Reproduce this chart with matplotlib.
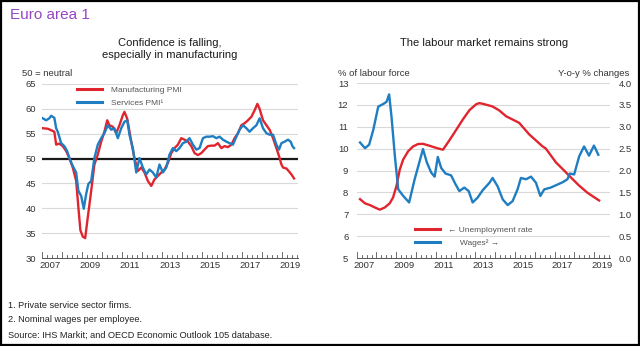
import matplotlib
matplotlib.use("Agg")
import matplotlib.pyplot as plt
from matplotlib.patches import Rectangle
from matplotlib.lines import Line2D

plt.rcParams['font.family'] = ['Liberation Sans', 'DejaVu Sans']

RED = "#E0252E"
BLUE = "#1F7DC2"
PURPLE = "#9446C4"
GRID = "#D9D9D9"
TXT = "#333333"

# ---- Left panel: PMIs (decimal year, index level) ----
mfg_dates = [2007.05, 2007.30, 2007.47, 2007.63, 2007.72, 2007.88, 2008.05, 2008.22, 2008.38,
             2008.55, 2008.72, 2008.83, 2008.93, 2009.05, 2009.17, 2009.30, 2009.47, 2009.63,
             2009.80, 2009.97, 2010.13, 2010.27, 2010.38, 2010.55, 2010.72, 2010.88, 2011.05,
             2011.13, 2011.27, 2011.47, 2011.63, 2011.80, 2011.97, 2012.13, 2012.30, 2012.47,
             2012.63, 2012.80, 2012.97, 2013.13, 2013.30, 2013.47, 2013.63, 2013.80, 2013.97,
             2014.13, 2014.30, 2014.47, 2014.63, 2014.80, 2014.97, 2015.13, 2015.30, 2015.47,
             2015.63, 2015.80, 2015.97, 2016.13, 2016.30, 2016.47, 2016.63, 2016.80, 2016.97,
             2017.13, 2017.30, 2017.47, 2017.63, 2017.77, 2017.88, 2018.05, 2018.22, 2018.38,
             2018.55, 2018.72, 2018.85, 2018.97, 2019.05, 2019.22, 2019.33, 2019.47, 2019.60]
mfg_pmi = [56.1, 56.0, 55.7, 55.4, 52.8, 53.0, 52.5, 51.5, 50.1,
           48.2, 45.5, 40.2, 35.6, 34.3, 34.0, 38.2, 43.5, 48.8,
           50.8, 53.4, 55.4, 57.7, 56.7, 56.4, 55.1, 56.7, 58.7,
           59.4, 58.0, 53.4, 50.1, 47.5, 48.2, 47.2, 45.5, 44.5,
           45.8, 46.5, 47.2, 47.8, 49.1, 51.1, 52.1, 52.8, 54.1,
           53.8, 53.4, 52.5, 51.1, 50.7, 51.1, 51.8, 52.5, 52.6,
           52.6, 53.1, 52.1, 52.5, 52.3, 52.8, 54.1, 55.1, 56.7,
           57.1, 57.7, 58.4, 59.7, 61.0, 60.0, 57.7, 56.7, 55.8,
           54.1, 52.1, 50.5, 48.8, 48.2, 48.0, 47.5, 46.8, 46.0]

svc_dates = [2007.05, 2007.22, 2007.38, 2007.47, 2007.63, 2007.72, 2007.80, 2007.97, 2008.13,
             2008.27, 2008.38, 2008.55, 2008.72, 2008.83, 2008.97, 2009.10, 2009.22, 2009.33,
             2009.47, 2009.63, 2009.80, 2009.97, 2010.13, 2010.30, 2010.47, 2010.63, 2010.80,
             2010.97, 2011.13, 2011.27, 2011.38, 2011.55, 2011.72, 2011.88, 2012.05, 2012.22,
             2012.38, 2012.55, 2012.72, 2012.88, 2013.05, 2013.22, 2013.38, 2013.55, 2013.72,
             2013.88, 2014.05, 2014.22, 2014.38, 2014.55, 2014.72, 2014.88, 2015.05, 2015.22,
             2015.38, 2015.55, 2015.72, 2015.88, 2016.05, 2016.22, 2016.38, 2016.55, 2016.72,
             2016.88, 2017.05, 2017.22, 2017.38, 2017.55, 2017.72, 2017.88, 2018.05, 2018.22,
             2018.38, 2018.55, 2018.72, 2018.85, 2018.97, 2019.13, 2019.30, 2019.43, 2019.52,
             2019.60]
svc_pmi = [58.1, 57.7, 58.1, 58.6, 58.2, 56.1, 55.4, 53.1, 52.5,
           51.5, 50.1, 48.5, 47.2, 43.5, 42.5, 39.9, 42.9, 44.9,
           45.5, 50.1, 52.8, 54.1, 55.1, 56.7, 55.8, 56.1, 54.1,
           56.1, 57.4, 57.7, 54.8, 52.1, 47.2, 50.1, 48.2, 46.8,
           47.8, 47.2, 46.2, 48.8, 47.2, 48.2, 50.8, 52.1, 51.5,
           52.1, 53.1, 53.4, 54.1, 52.8, 51.8, 52.1, 54.1, 54.4,
           54.4, 54.5, 54.1, 54.4, 53.8, 53.4, 53.1, 52.8, 54.4,
           55.8, 56.7, 56.1, 55.4, 56.1, 56.7, 58.1, 56.1, 55.1,
           54.8, 54.8, 52.8, 51.8, 53.1, 53.4, 53.8, 53.4, 52.5,
           52.1]

# ---- Right panel: unemployment rate (% of labour force) ----
unemp_dates = [2007.17, 2007.42, 2007.67, 2007.92, 2008.17, 2008.42, 2008.67, 2008.84, 2009.01,
               2009.18, 2009.35, 2009.60, 2009.85, 2010.10, 2010.35, 2010.69, 2011.03, 2011.36,
               2011.70, 2012.03, 2012.37, 2012.70, 2013.04, 2013.20, 2013.37, 2013.86, 2014.20,
               2014.55, 2015.21, 2015.72, 2016.37, 2016.56, 2017.07, 2017.48, 2017.74, 2018.24,
               2018.64, 2018.75, 2019.25]
unemp = [7.69, 7.50, 7.42, 7.31, 7.21, 7.31, 7.50, 7.77, 8.29,
         9.05, 9.50, 9.88, 10.10, 10.21, 10.22, 10.13, 10.03, 9.95,
         10.40, 10.86, 11.34, 11.76, 12.03, 12.08, 12.05, 11.93, 11.75,
         11.48, 11.18, 10.65, 10.12, 10.00, 9.37, 9.00, 8.76, 8.31,
         8.00, 7.93, 7.63]

# ---- Right panel: nominal wages per employee (y-o-y % change) ----
wage_dates = [2007.17, 2007.42, 2007.63, 2007.84, 2008.09, 2008.34, 2008.51, 2008.64, 2008.76,
              2008.93, 2009.10, 2009.35, 2009.65, 2009.93, 2010.18, 2010.35, 2010.55, 2010.77,
              2010.94, 2011.10, 2011.27, 2011.49, 2011.77, 2011.99, 2012.19, 2012.44, 2012.66,
              2012.86, 2013.11, 2013.37, 2013.71, 2013.87, 2014.12, 2014.38, 2014.63, 2014.88,
              2015.13, 2015.30, 2015.56, 2015.81, 2016.06, 2016.28, 2016.48, 2016.81, 2017.15,
              2017.40, 2017.65, 2017.77, 2017.99, 2018.24, 2018.49, 2018.74, 2018.99, 2019.21]
wages = [2.64, 2.51, 2.59, 2.93, 3.46, 3.52, 3.57, 3.74, 3.23,
         2.33, 1.57, 1.42, 1.27, 1.80, 2.21, 2.49, 2.18, 1.95,
         1.86, 2.31, 2.06, 1.93, 1.89, 1.69, 1.53, 1.61, 1.53,
         1.27, 1.38, 1.55, 1.72, 1.83, 1.64, 1.34, 1.21, 1.30,
         1.57, 1.83, 1.80, 1.86, 1.72, 1.42, 1.57, 1.61, 1.68,
         1.73, 1.80, 1.93, 1.91, 2.32, 2.55, 2.34, 2.57, 2.36]

year_labels = [2007, 2009, 2011, 2013, 2015, 2017, 2019]
pmi_ticks = [30, 35, 40, 45, 50, 55, 60, 65]
unemp_ticks = [5, 6, 7, 8, 9, 10, 11, 12, 13]
wage_ticks = [0.0, 0.5, 1.0, 1.5, 2.0, 2.5, 3.0, 3.5, 4.0]

X0, X1 = 2007.0, 2019.8
LABEL_SHIFT = 0.4

fig = plt.figure(figsize=(6.4, 3.46), dpi=100)
fig.patch.set_facecolor("white")


def style_time_axis(ax):
    ax.set_xlim(X0, X1)
    ax.set_xticks([y + LABEL_SHIFT for y in year_labels])
    ax.set_xticklabels([str(y) for y in year_labels], fontsize=6.8, color=TXT)
    ax.tick_params(axis="x", length=0, pad=2)
    # small calendar ticks on the baseline
    for i in range(int((X1 - X0) * 4) + 1):
        q = X0 + i * 0.25
        h = 0.035 if i % 4 == 0 else 0.018
        ax.plot([q, q], [0, h], transform=ax.get_xaxis_transform(),
                color="#555555", lw=0.6, clip_on=False)
    for s in ["top", "right", "left"]:
        ax.spines[s].set_visible(False)
    ax.spines["bottom"].set_color("#555555")
    ax.spines["bottom"].set_linewidth(0.7)


# ---------- left panel ----------
axL = fig.add_axes([0.0652, 0.2543, 0.4005, 0.503])
axL.set_ylim(30, 65)
axL.set_yticks(pmi_ticks)
axL.set_yticklabels([str(t) for t in pmi_ticks], fontsize=6.8, color=TXT)
axL.tick_params(axis="y", length=0, pad=4)
axL.yaxis.grid(True, color=GRID, lw=0.8)
axL.set_axisbelow(True)
style_time_axis(axL)
axL.axhline(50, color="#1a1a1a", lw=1.6, zorder=2)
axL.plot(mfg_dates, mfg_pmi, color=RED, lw=1.7, zorder=3)
axL.plot(svc_dates, svc_pmi, color=BLUE, lw=1.7, zorder=4)

axL.legend(handles=[Line2D([], [], color=RED, lw=2.2), Line2D([], [], color=BLUE, lw=2.2)],
           labels=["Manufacturing PMI", "Services PMI\u00b9"],
           loc="upper left", bbox_to_anchor=(0.11, 1.03), frameon=False,
           fontsize=6, handlelength=3.0, handletextpad=1.0, labelspacing=0.55,
           labelcolor="#555555")

fig.text(22 / 640, 1 - 73 / 346, "50 = neutral", fontsize=6.8, color=TXT,
         ha="left", va="center")
fig.text(170 / 640, 1 - 49 / 346, "Confidence is falling,\nespecially in manufacturing",
         fontsize=8, color="#1a1a1a", ha="center", va="center", linespacing=1.15)

# ---------- right panel ----------
axR = fig.add_axes([0.5573, 0.2543, 0.3958, 0.5058])
axR.set_ylim(5, 13)
axR.set_yticks(unemp_ticks)
axR.set_yticklabels([str(t) for t in unemp_ticks], fontsize=6.8, color=TXT)
axR.tick_params(axis="y", length=0, pad=6)
axR.yaxis.grid(True, color=GRID, lw=0.8)
axR.set_axisbelow(True)
style_time_axis(axR)
axR.plot(unemp_dates, unemp, color=RED, lw=1.7, zorder=3)

axW = axR.twinx()
axW.set_ylim(0, 4)
axW.set_yticks(wage_ticks)
axW.set_yticklabels([f"{t:.1f}" for t in wage_ticks], fontsize=6.8, color=TXT)
axW.tick_params(axis="y", length=0, pad=6)
for s in ["top", "right", "left", "bottom"]:
    axW.spines[s].set_visible(False)
axW.plot(wage_dates, wages, color=BLUE, lw=1.7, zorder=4)

axW.legend(handles=[Line2D([], [], color=RED, lw=2.2), Line2D([], [], color=BLUE, lw=2.2)],
           labels=["\u2190 Unemployment rate", "     Wages\u00b2 \u2192"],
           loc="lower left", bbox_to_anchor=(0.2, 0.022), frameon=False,
           fontsize=6, handlelength=3.0, handletextpad=1.0, labelspacing=0.55,
           labelcolor="#555555")

fig.text(338 / 640, 1 - 73 / 346, "% of labour force", fontsize=6.8, color=TXT,
         ha="left", va="center")
fig.text(629 / 640, 1 - 73 / 346, "Y-o-y % changes", fontsize=6.8, color=TXT,
         ha="right", va="center")
fig.text(484 / 640, 1 - 43 / 346, "The labour market remains strong",
         fontsize=8, color="#1a1a1a", ha="center", va="center")

# ---------- header and notes ----------
fig.text(10 / 640, 1 - 15 / 346, "Euro area 1", fontsize=11, color=PURPLE,
         ha="left", va="center")
notes = ["1. Private service sector firms.",
         "2. Nominal wages per employee.",
         "Source: IHS Markit; and OECD Economic Outlook 105 database."]
for i, line in enumerate(notes):
    fig.text(8 / 640, 1 - (305 + i * 15) / 346, line, fontsize=6.6, color="#222222",
             ha="left", va="center")

fig.patches.append(Rectangle((0.0015, 0.002), 0.997, 0.995, transform=fig.transFigure,
                             fill=False, edgecolor="black", lw=1.6))

fig.savefig("out.png", dpi=100, facecolor="white")
